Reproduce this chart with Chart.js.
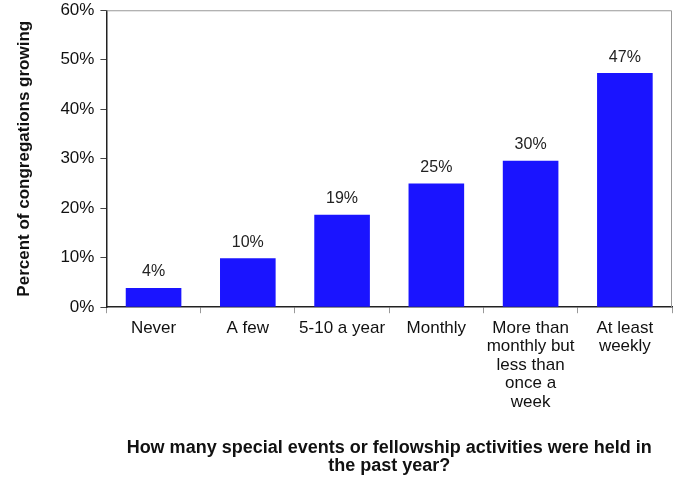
<!DOCTYPE html>
<html>
<head>
<meta charset="utf-8">
<script src="https://cdn.jsdelivr.net/npm/chart.js@4.4.1/dist/chart.umd.min.js"></script>
<style>
  html, body { margin: 0; padding: 0; background: #fff; }
  #wrap { width: 676px; height: 477px; }
</style>
</head>
<body>
<div id="wrap"><canvas id="chart" width="676" height="477"></canvas></div>
<script>
const categories = [
  "Never",
  "A few",
  "5-10 a year",
  "Monthly",
  ["More than", "monthly but", "less than", "once a", "week"],
  ["At least", "weekly"]
];
const percentGrowing = [3.9, 9.9, 18.7, 25, 29.6, 47.3];
const yTicks = [0, 10, 20, 30, 40, 50, 60];

const FONT = "'Liberation Sans', Arial, Helvetica, sans-serif";

// value labels above each bar
const barLabels = {
  id: "barLabels",
  afterDatasetsDraw(chart) {
    const ctx = chart.ctx;
    const meta = chart.getDatasetMeta(0);
    ctx.save();
    ctx.font = "16px " + FONT;
    ctx.fillStyle = "#222";
    ctx.textAlign = "center";
    ctx.textBaseline = "bottom";
    meta.data.forEach((bar, i) => {
      ctx.fillText(Math.round(percentGrowing[i]) + "%", bar.x, bar.y - 8);
    });
    ctx.restore();
  }
};

// grey frame on top and right of the plot area
const frame = {
  id: "frame",
  beforeDatasetsDraw(chart) {
    const a = chart.chartArea;
    const ctx = chart.ctx;
    ctx.save();
    ctx.strokeStyle = "#999";
    ctx.lineWidth = 1;
    ctx.beginPath();
    ctx.moveTo(a.left, a.top + 0.5);
    ctx.lineTo(a.right - 0.5, a.top + 0.5);
    ctx.lineTo(a.right - 0.5, a.bottom);
    ctx.stroke();
    ctx.restore();
  }
};

new Chart(document.getElementById("chart"), {
  type: "bar",
  data: {
    labels: categories,
    datasets: [{
      data: percentGrowing,
      backgroundColor: "#1a14ff",
      borderWidth: 0,
      barPercentage: 0.59,
      categoryPercentage: 1
    }]
  },
  options: {
    responsive: false,
    animation: false,
    layout: { padding: { top: 0, right: 4, left: 14, bottom: 2 } },
    plugins: {
      legend: { display: false },
      tooltip: { enabled: false }
    },
    scales: {
      x: {
        grid: {
          display: true,
          drawOnChartArea: false,
          drawTicks: true,
          tickLength: 6,
          color: "#999"
        },
        border: { display: true, color: "#222", width: 1.5 },
        ticks: {
          color: "#111",
          font: { family: FONT, size: 17, lineHeight: 1.08 },
          maxRotation: 0,
          autoSkip: false,
          padding: 6
        },
        title: {
          display: true,
          text: ["How many special events or fellowship activities were held in", "the past year?"],
          color: "#111",
          font: { family: FONT, size: 18, weight: "bold", lineHeight: 1.0 },
          padding: { top: 22, bottom: 0 }
        }
      },
      y: {
        min: 0,
        max: 60,
        afterBuildTicks(scale) {
          scale.ticks = yTicks.map(v => ({ value: v }));
        },
        grid: {
          display: true,
          drawOnChartArea: false,
          drawTicks: true,
          tickLength: 6,
          color: "#444"
        },
        border: { display: true, color: "#222", width: 1.5 },
        ticks: {
          color: "#111",
          font: { family: FONT, size: 17, lineHeight: 0.5 },
          padding: 6,
          callback: v => v + "%"
        },
        title: {
          display: true,
          text: "Percent of congregations growing",
          color: "#111",
          font: { family: FONT, size: 17, weight: "bold" },
          padding: { top: 0, bottom: 20 }
        }
      }
    }
  },
  plugins: [barLabels, frame]
});
</script>
</body>
</html>
